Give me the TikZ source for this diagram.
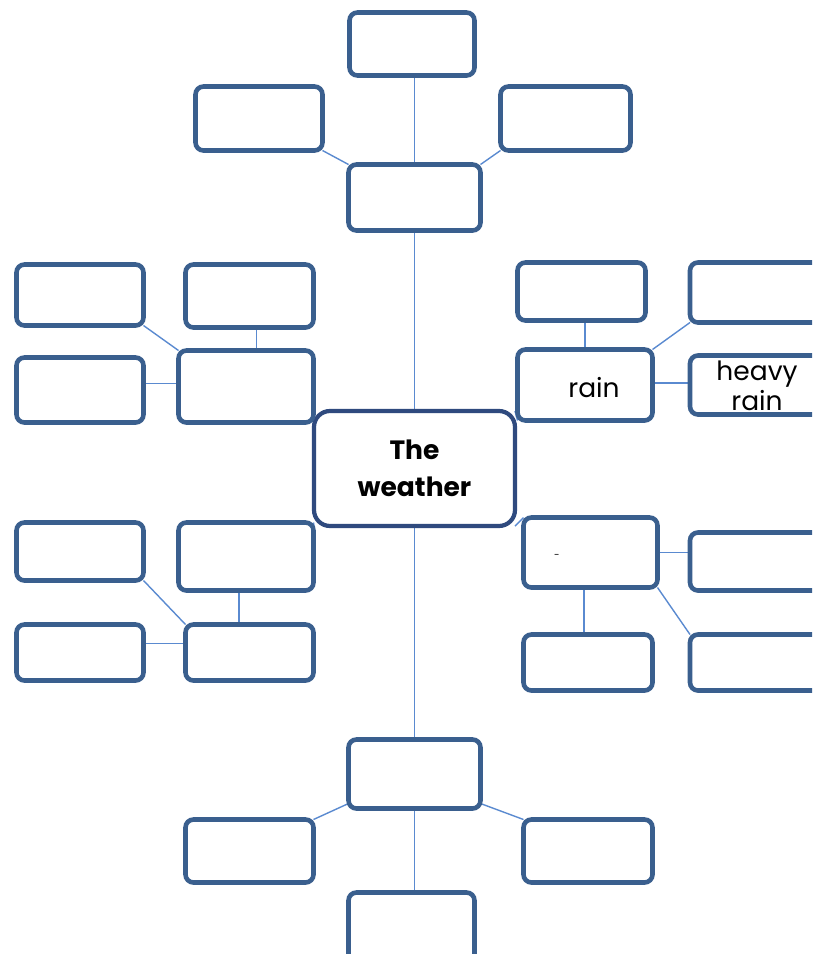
\documentclass[tikz,border=0pt]{standalone}
\usepackage{fontspec}
\setmainfont{Poppins}
\usetikzlibrary{backgrounds}
\definecolor{boxblue}{HTML}{3A5F8E}
\definecolor{navy}{HTML}{2F4A7E}
\definecolor{linkblue}{HTML}{5A8AD0}
\tikzset{
  bx/.style={draw=boxblue, line width=4.6pt, rounded corners=8pt, fill=white, inner sep=0pt, outer sep=0pt},
  mainbx/.style={draw=navy, line width=4.2pt, rounded corners=16pt, fill=white, inner sep=0pt, outer sep=0pt},
  link/.style={draw=linkblue, line width=1.4pt},
  lbl/.style={font=\fontsize{26.5}{32}\selectfont, inner sep=0pt, align=center}
}
\newcommand{\bxat}[5]{\node[bx, minimum width=#4pt, minimum height=#5pt] (#1) at (#2,#3) {};}
\begin{document}
\begin{tikzpicture}[x=1pt, y=-1pt]
\useasboundingbox (0,0) rectangle (812,954);
\clip (0,0) rectangle (812,954);
% top group
\bxat{T1}{412}{44}{125}{63}
\bxat{TL}{259}{118.5}{127}{64}
\bxat{TR}{565.5}{118.5}{130}{64}
\bxat{TC}{414.5}{197.5}{132}{66}
% central
\node[mainbx, minimum width=201pt, minimum height=115pt] (C) at (414.5,468.5) {};
% left upper
\bxat{L1}{80}{295}{127}{61}
\bxat{L2}{249.5}{296}{128}{63}
\bxat{L3}{80}{390}{127}{65}
\bxat{Lm}{246}{386.5}{135}{72}
% left lower
\bxat{L4}{80}{551.5}{127}{58}
\bxat{L5}{246}{556.5}{135}{68}
\bxat{L6}{80}{652.5}{127}{56}
\bxat{Lm2}{249.5}{652.5}{128}{56}
% right upper
\bxat{RTL}{581.5}{291.5}{128}{58}
\bxat{RTR}{760}{292.5}{140}{60}
\bxat{Rr}{585}{385}{135}{71}
\bxat{Rh}{760}{385}{140}{59}
% right lower
\bxat{Rm2}{590.5}{552.5}{134}{70}
\bxat{R5}{760}{561.5}{140}{58}
\bxat{R6}{588}{662.5}{129}{56}
\bxat{R7}{760}{662.5}{140}{56}
% bottom group
\bxat{BC}{414.5}{774}{132}{69}
\bxat{BL}{249.5}{851}{128}{63}
\bxat{BR}{588}{851}{129}{63}
\bxat{BB}{411.5}{930}{126}{75}
% texts
\node[lbl, font=\bfseries\fontsize{26.5}{37}\selectfont] (ctext) at (414.5,468) {The\\weather};
\node[lbl, anchor=base] (rain) at (594,397) {rain};
\node[lbl, font=\fontsize{26.5}{30}\selectfont] (heavy) at (757,386) {heavy\\rain};
\node[lbl, font=\fontsize{10}{12}\selectfont] (dash) at (557,556) {-};
% connectors
\begin{scope}[on background layer]
\draw[link] (TC.north) -- (TC.north |- T1.south);
\draw[link] (TL.south east) -- (TC.north west);
\draw[link] (TR.south west) -- (TC.north east);
\draw[link] (TC.south) -- (C.north);
\draw[link] (C.south) -- (BC.north);
\draw[link] (BC.south) -- (BC.south |- BB.north);
\draw[link] ([yshift=5pt]BC.south west) -- (BL.north east);
\draw[link] ([yshift=5pt]BC.south east) -- (BR.north west);
\draw[link] (L1.south east) -- (Lm.north west);
\draw[link] ([xshift=7pt]L2.south) -- ([xshift=7pt]L2.south |- Lm.north);
\draw[link] ([yshift=3pt]Lm.west) -- ([yshift=3pt]Lm.west -| L3.east);
\draw[link] (L4.south east) -- (Lm2.north west);
\draw[link] ([xshift=-7pt]L5.south) -- ([xshift=-7pt]L5.south |- Lm2.north);
\draw[link] ([yshift=9pt]Lm2.west) -- ([yshift=9pt]Lm2.west -| L6.east);
\draw[link] (Rr.north) -- (Rr.north |- RTL.south);
\draw[link] (Rr.north east) -- (RTR.south west);
\draw[link] ([yshift=2pt]Rr.east) -- ([yshift=2pt]Rr.east -| Rh.west);
\draw[link] (Rm2.east) -- (Rm2.east -| R5.west);
\draw[link] ([xshift=-4pt]R6.north) -- ([xshift=-4pt]R6.north |- Rm2.south);
\draw[link] (Rm2.south east) -- (R7.north west);
\draw[link] (C.north west) -- (Lm.south east);
\draw[link] (C.north east) -- (Rr.south west);
\draw[link] (C.south west) -- (L5.north east);
\draw[link] (C.south east) -- (Rm2.north west);
\end{scope}
\end{tikzpicture}
\end{document}
